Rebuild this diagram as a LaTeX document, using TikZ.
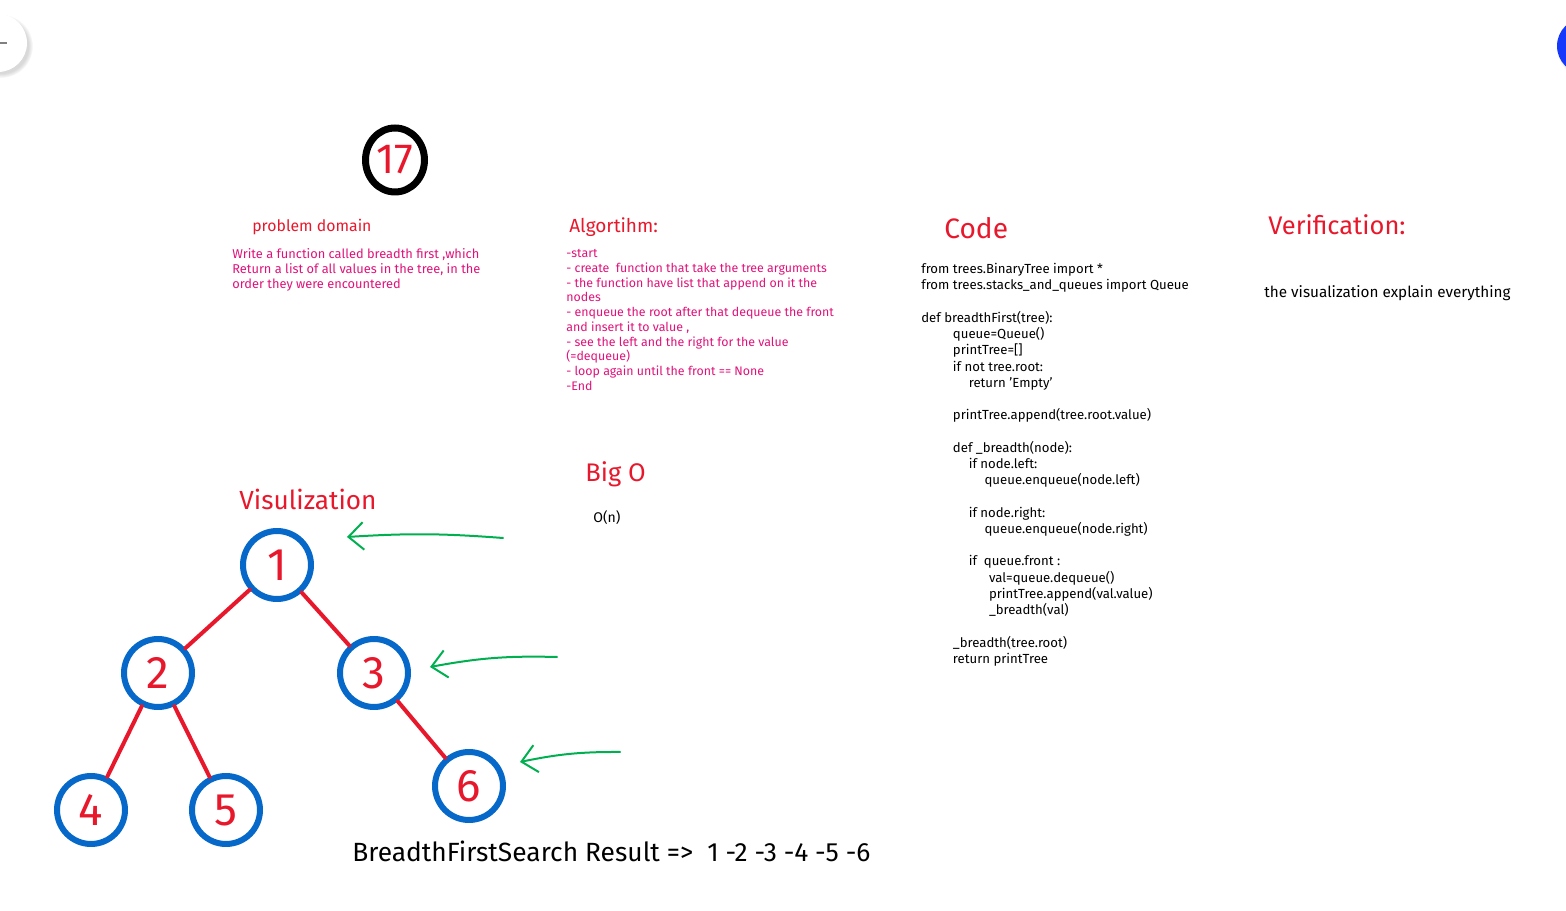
\documentclass[tikz,border=0pt]{standalone}
\usepackage{fontspec}
\setmainfont{Fira Sans}
\usetikzlibrary{arrows.meta,shadows,shapes.geometric}
\definecolor{penred}{RGB}{232,24,44}
\definecolor{penpink}{RGB}{224,18,122}
\definecolor{penblue}{RGB}{6,104,200}
\definecolor{pengreen}{RGB}{0,176,80}
\definecolor{uiblue}{RGB}{22,56,250}
\begin{document}
\begin{tikzpicture}[x=0.02cm,y=-0.02cm,
	heading/.style={anchor=base west, inner sep=0pt, text=penred},
	notes/.style={anchor=north west, inner sep=0pt, align=left},
	treenode/.style={circle, draw=penblue, line width=0.12cm, minimum size=1.36cm, inner sep=0pt, text=penred, font=\fontsize{26}{26}\selectfont},
	branch/.style={draw=penred, line width=0.08cm, line cap=round},
	pointer/.style={draw=pengreen, line width=0.04cm, line cap=round, -{Straight Barb[length=0.3cm, width=0.55cm]}}]
	\useasboundingbox (0,0) rectangle (1566,911);
	\clip (0,0) rectangle (1566,911);
	
	% corner buttons
	\fill[white, circular drop shadow={opacity=0.3}] (-2,43) circle (29);
	\draw[gray, line width=0.03cm] (-4,43) -- (7,43);
	\fill[uiblue, circular drop shadow={opacity=0.3}] (1585,46) circle (28);
	
	% number badge
	\node[ellipse, draw=black, line width=0.14cm, minimum width=1.18cm, minimum height=1.28cm, inner sep=0pt, text=penred, font=\fontsize{24}{24}\selectfont] (badge) at (395,160) {17};
	
	% problem domain
	\node[heading, font=\fontsize{9}{11}\selectfont] (probhead) at (252,232) {problem domain};
	\node[notes, text=penpink, font=\fontsize{7.3}{8.5}\selectfont] (probtext) at (232,248) {Write a function called breadth first ,which\\Return a list of all values in the tree, in the\\order they were encountered};
	
	% algorithm
	\node[heading, font=\fontsize{10.8}{12}\selectfont] (alghead) at (569,233) {Algortihm:};
	\node[notes, text=penpink, font=\fontsize{7.05}{8.4}\selectfont] (algtext) at (566,249) {-start\\- create\ \ function that take the tree arguments\\- the function have list that append on it the\\nodes\\- enqueue the root after that dequeue the front\\and insert it to value ,\\- see the left and the right for the value\\(=dequeue)\\- loop again until the front == None\\-End};
	
	% code
	\node[heading, font=\fontsize{16}{18}\selectfont] (codehead) at (944,239) {Code};
	\node[notes, font=\fontsize{7.5}{9.24}\selectfont] (codetext) at (921,263) {from trees.BinaryTree import *\\from trees.stacks\_and\_queues import Queue\\[9.24pt]
		def breadthFirst(tree):\\
		\hspace*{18pt}queue=Queue()\\
		\hspace*{18pt}printTree=[]\\
		\hspace*{18pt}if not tree.root:\\
		\hspace*{27pt}return 'Empty'\\[9.24pt]
		\hspace*{18pt}printTree.append(tree.root.value)\\[9.24pt]
		\hspace*{18pt}def \_breadth(node):\\
		\hspace*{27pt}if node.left:\\
		\hspace*{36pt}queue.enqueue(node.left)\\[9.24pt]
		\hspace*{27pt}if node.right:\\
		\hspace*{36pt}queue.enqueue(node.right)\\[9.24pt]
		\hspace*{27pt}if\ \ queue.front :\\
		\hspace*{38.5pt}val=queue.dequeue()\\
		\hspace*{38.5pt}printTree.append(val.value)\\
		\hspace*{38.5pt}\_breadth(val)\\[9.24pt]
		\hspace*{18pt}\_breadth(tree.root)\\
		\hspace*{18pt}return printTree};
	
	% verification
	\node[heading, font=\fontsize{14.5}{16}\selectfont] (verhead) at (1268,235) {Verification:};
	\node[anchor=base west, inner sep=0pt, font=\fontsize{8.7}{10}\selectfont] (vertext) at (1264,298) {the visualization explain everything};
	
	% big o
	\node[heading, font=\fontsize{14.5}{16}\selectfont] (bighead) at (585,482) {Big O};
	\node[anchor=base west, inner sep=0pt, font=\fontsize{8}{10}\selectfont] (bigtext) at (593,523) {O(n)};
	
	% tree
	\node[heading, font=\fontsize{14.9}{17}\selectfont] (vishead) at (239,510) {Visulization};
	\node[treenode] (one) at (277,565) {1};
	\node[treenode] (two) at (158,673) {2};
	\node[treenode] (three) at (374,673) {3};
	\node[treenode] (four) at (91,810) {4};
	\node[treenode] (five) at (226,810) {5};
	\node[treenode] (six) at (469,786) {6};
	\draw[branch] (one) -- (two);
	\draw[branch] (one) -- (three);
	\draw[branch] (two) -- (four);
	\draw[branch] (two) -- (five);
	\draw[branch] (three) -- (six);
	
	\coordinate (tailA) at (503,538);
	\coordinate (tipA) at (347,537);
	\coordinate (tailB) at (557,657);
	\coordinate (tipB) at (430,667);
	\coordinate (tailC) at (620,752);
	\coordinate (tipC) at (520,762);
	\draw[pointer] (tailA) to[bend right=4] (tipA);
	\draw[pointer] (tailB) to[bend right=6] (tipB);
	\draw[pointer] (tailC) to[bend right=6] (tipC);
	
	\node[anchor=base west, inner sep=0pt, font=\fontsize{15}{17}\selectfont] (result) at (352,862) {BreadthFirstSearch Result =>\ \ 1 -2 -3 -4 -5 -6};
\end{tikzpicture}
\end{document}
